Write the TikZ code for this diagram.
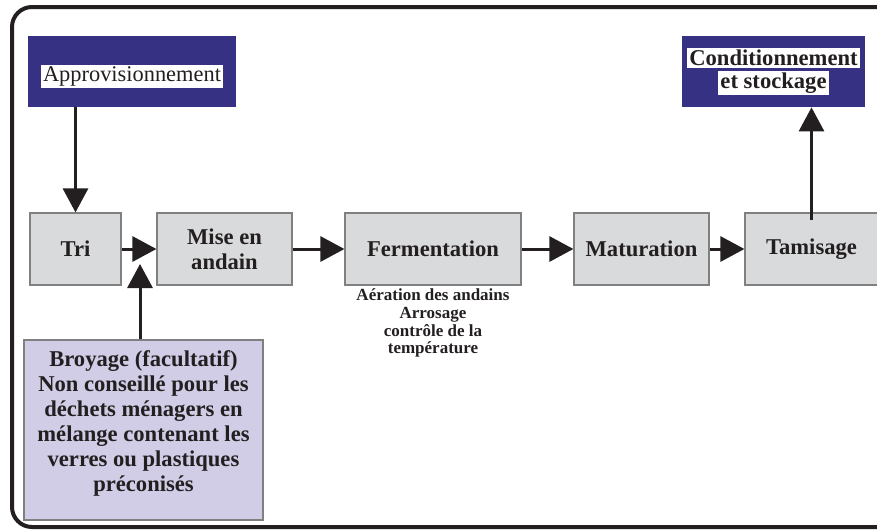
\documentclass[tikz,border=0pt]{standalone}
\usepackage{fontspec}
\setmainfont{Liberation Serif}
\usepackage{xcolor}
\usetikzlibrary{
    arrows.meta,
    positioning
}
\definecolor{marine}{RGB}{54,49,131}
\definecolor{hellgrau}{RGB}{217,218,219}
\definecolor{lila}{RGB}{209,205,230}
\definecolor{dunkel}{RGB}{35,31,32}
\newcommand{\weiss}[1]{{\setlength{\fboxsep}{1pt}\colorbox{white}{#1}}}
\tikzstyle{arrow} = [
    line width=1.5pt,
    draw=dunkel,
    -{Triangle[length=12pt,width=12.5pt]}
]
\tikzstyle{stepbox} = [
    draw=gray,
    line width=0.6pt,
    fill=hellgrau,
    minimum height=36pt,
    align=center,
    text=dunkel,
    font=\fontsize{11.3}{12.5}\selectfont\bfseries
]
\tikzstyle{navybox} = [
    fill=marine,
    minimum height=35.5pt
]

\begin{document}
\begin{tikzpicture}[x=0.5pt, y=-0.5pt]
% Rahmen und Grösse
\useasboundingbox (0,0) rectangle (877,531);
\clip (0,0) rectangle (877,531);
\draw[line width=2pt, draw=dunkel, rounded corners=10pt] (12,7) rectangle (900,527);

% Eingang und Ausgang
\node[navybox, minimum width=104pt] (appro) at (132,71.5) {};
\node[text=dunkel, inner sep=0pt, font=\fontsize{11.2}{12.5}\selectfont] (approtext)
    at ([yshift=-2.5pt]appro.center) {\weiss{Approvisionnement}};
\node[navybox, minimum width=91.5pt] (cond) at (773.5,71.5) {};
\node[text=dunkel, inner sep=0pt, align=center, font=\fontsize{11.3}{12.5}\selectfont\bfseries] (condtext)
    at (cond.center) {\weiss{Conditionnement}\\[-1pt]\weiss{et stockage}};

% Verfahrensschritte
\node[stepbox, minimum width=45.5pt] (tri) at (75.5,249) {Tri};
\node[stepbox, minimum width=67.5pt] (mise) at (224.5,249) {Mise en\\andain};
\node[stepbox, minimum width=88pt] (ferm) at (433,249) {Fermentation};
\node[stepbox, minimum width=67.5pt] (mat) at (641.5,249) {Maturation};
\node[stepbox, minimum width=66.5pt] (tam) at (811.5,249) {Tamisage};

% Hinweise
\node[below=0.5pt of ferm, inner sep=1pt, align=center, text=dunkel,
      font=\fontsize{8.5}{8.8}\selectfont\bfseries] (fermnotiz)
    {Aération des andains\\Arrosage\\contrôle de la\\température};
\node[draw=gray, line width=0.6pt, fill=lila, minimum width=119.5pt, minimum height=90pt] (broy)
    at (143.5,430) {};
\node[align=center, text=dunkel, inner sep=0pt, font=\fontsize{11.3}{12.5}\selectfont\bfseries] (broytext)
    at ([yshift=3.5pt]broy.center)
    {Broyage (facultatif)\\Non conseillé pour les\\déchets ménagers en\\mélange contenant les\\verres ou plastiques\\préconisés};

% Pfeile
\draw[arrow] (appro.south -| tri.north) -- (tri.north);
\draw[arrow] (tri) -- (mise);
\draw[arrow] (mise) -- (ferm);
\draw[arrow] (ferm) -- (mat);
\draw[arrow] (mat) -- (tam);
\draw[arrow] ([yshift=-4pt]tam.north) -- (cond.south -| tam.north);
\coordinate (broyziel) at (140,264);
\draw[arrow] (broy.north -| broyziel) -- (broyziel);
\end{tikzpicture}
\end{document}
